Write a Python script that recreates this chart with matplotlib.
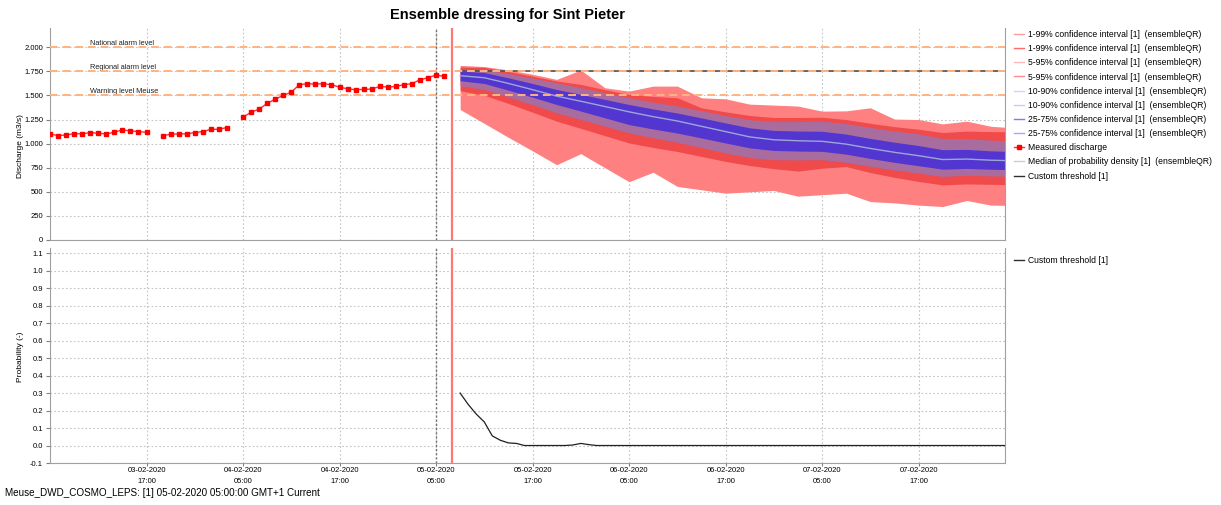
import numpy as np
import matplotlib
matplotlib.use("Agg")
import matplotlib.pyplot as plt
from matplotlib.lines import Line2D
from matplotlib.ticker import FuncFormatter, MultipleLocator
from datetime import datetime, timedelta

plt.rcParams['font.family'] = ['Liberation Sans', 'DejaVu Sans']

# ---------------- data ----------------
meas_start = datetime(2020, 2, 3, 5)
measured = [1101, 1083, 1090, 1104, 1101, 1115, 1108, 1101, 1118, 1142, 1132, 1125, 1118,
            np.nan,
            1083, 1097, 1101, 1101, 1115, 1125, 1149, 1149, 1167,
            np.nan,
            1274, 1326, 1358, 1417, 1462, 1500, 1535, 1611, 1622, 1618, 1622, 1611, 1587,
            1569, 1559, 1563, 1566, 1594, 1587, 1594, 1611, 1622, 1663, 1684, 1712, 1698]

fc_start = datetime(2020, 2, 5, 8)
q01 = [1354, 1210, 1065, 925, 781, 896, 750, 605, 703, 556, 521, 486, 500, 514, 455, 470, 486, 399, 385, 362, 347, 410, 362, 358]
q99 = [1812, 1800, 1765, 1720, 1667, 1764, 1580, 1545, 1597, 1597, 1476, 1465, 1410, 1400, 1390, 1337, 1340, 1372, 1255, 1250, 1205, 1233, 1180, 1163]
q05 = [1549, 1502, 1417, 1326, 1233, 1159, 1083, 1007, 960, 919, 867, 816, 773, 740, 715, 745, 762, 700, 650, 608, 572, 582, 578, 573]
q95 = [1795, 1791, 1748, 1700, 1650, 1615, 1560, 1510, 1490, 1476, 1372, 1330, 1292, 1271, 1271, 1274, 1250, 1211, 1176, 1150, 1115, 1130, 1125, 1122]
q10 = [1601, 1562, 1486, 1403, 1319, 1251, 1181, 1111, 1060, 1014, 959, 903, 856, 833, 831, 833, 806, 764, 726, 694, 660, 671, 665, 661]
q90 = [1771, 1768, 1727, 1681, 1632, 1581, 1529, 1476, 1431, 1391, 1342, 1292, 1248, 1228, 1229, 1233, 1208, 1168, 1132, 1101, 1055, 1054, 1036, 1028]
q25 = [1653, 1624, 1555, 1482, 1406, 1338, 1268, 1198, 1152, 1110, 1059, 1007, 956, 929, 923, 920, 891, 846, 806, 771, 735, 743, 734, 729]
q75 = [1753, 1737, 1683, 1624, 1562, 1511, 1459, 1406, 1360, 1318, 1267, 1215, 1164, 1137, 1131, 1128, 1099, 1054, 1015, 980, 937, 940, 925, 918]
median = [1705, 1684, 1625, 1560, 1493, 1440, 1385, 1330, 1280, 1235, 1180, 1125, 1070, 1040, 1030, 1024, 995, 950, 910, 875, 835, 840, 828, 822]

prob_start = datetime(2020, 2, 5, 8)
probability = [0.30, 0.235, 0.18, 0.135, 0.055, 0.03, 0.015, 0.012, 0.0, 0.0,
               0.0, 0.0, 0.0, 0.0, 0.003, 0.012, 0.005, 0.0, 0.0, 0.0,
               0.0, 0.0, 0.0, 0.0, 0.0, 0.0, 0.0, 0.0, 0.0, 0.0,
               0.0, 0.0, 0.0, 0.0, 0.0, 0.0, 0.0, 0.0, 0.0, 0.0,
               0.0, 0.0, 0.0, 0.0, 0.0, 0.0, 0.0, 0.0, 0.0, 0.0,
               0.0, 0.0, 0.0, 0.0, 0.0, 0.0, 0.0, 0.0, 0.0, 0.0,
               0.0, 0.0, 0.0, 0.0, 0.0, 0.0, 0.0, 0.0, 0.0]

alarm_levels = [2000, 1750, 1500]
alarm_labels = ['National alarm level', 'Regional alarm level', 'Warning level Meuse']
custom_threshold = 1750
t_forecast = datetime(2020, 2, 5, 5)
t_current = datetime(2020, 2, 5, 7)
x_min = datetime(2020, 2, 3, 5)
x_max = datetime(2020, 2, 8, 3, 45)
x_ticks = [datetime(2020, 2, 3, 17), datetime(2020, 2, 4, 5), datetime(2020, 2, 4, 17),
           datetime(2020, 2, 5, 5), datetime(2020, 2, 5, 17), datetime(2020, 2, 6, 5),
           datetime(2020, 2, 6, 17), datetime(2020, 2, 7, 5), datetime(2020, 2, 7, 17)]
x_ticklabels = [t.strftime('%d-%m-%Y\n%H:%M') for t in x_ticks]

meas_times = [meas_start + timedelta(hours=i) for i in range(len(measured))]
fc_times = [fc_start + timedelta(hours=3 * i) for i in range(len(median))]
prob_times = [prob_start + timedelta(hours=i) for i in range(len(probability))]

# ---------------- figure ----------------
W, H = 1221, 505
fig = plt.figure(figsize=(W / 100, H / 100), dpi=100)
ax1 = fig.add_axes([50 / W, 1 - 240 / H, 955 / W, 212 / H])
ax2 = fig.add_axes([50 / W, 1 - 463 / H, 955 / W, 215 / H])

grid_kw = dict(color='#c4c4c4', lw=0.8, ls=(0, (1.5, 2.0)))
for ax in (ax1, ax2):
    ax.set_xlim(x_min, x_max)
    ax.grid(True, **grid_kw)
    ax.set_axisbelow(True)
    for s in ('left', 'bottom', 'right'):
        ax.spines[s].set_color('#a0a0a0')
    ax.spines['top'].set_visible(False)
    ax.tick_params(axis='both', labelsize=5.5, length=3, width=0.8, color='#808080', pad=2)
    ax.axvline(t_forecast, color='#707070', lw=1, ls=(0, (1.5, 1.5)), zorder=4)
    ax.axvline(t_current, color='#ff7878', lw=1.6, zorder=5)

ax1.set_xticks(x_ticks, labels=['' for _ in x_ticks])
ax2.set_xticks(x_ticks, labels=x_ticklabels, fontsize=5.5, linespacing=1.75)
ax2.set_xlim(x_min, x_max)
ax1.set_xlim(x_min, x_max)

# top panel
ax1.set_ylim(0, 2200)
ax1.yaxis.set_major_locator(MultipleLocator(250))
ax1.yaxis.set_major_formatter(FuncFormatter(lambda v, p: f'{int(v):,}'.replace(',', '.') if v <= 2000 else ''))
ax1.tick_params(axis='x', length=0)
ax1.set_ylabel('Discharge (m3/s)', fontsize=6)
ax1.yaxis.set_label_coords(-26 / 955, 0.443)

ax1.fill_between(fc_times, q01, q99, color='#ff8080', lw=0, zorder=2)
ax1.fill_between(fc_times, q05, q95, color='#f04a4a', lw=0, zorder=2)
ax1.fill_between(fc_times, q10, q90, color='#a86c9e', lw=0, zorder=2)
ax1.fill_between(fc_times, q25, q75, color='#5236cf', lw=0, zorder=2)
ax1.plot(fc_times, median, color='#9ea6d8', lw=1, zorder=3)

ax1.plot([fc_times[0], x_max], [custom_threshold, custom_threshold], color='#505050', lw=1.2, zorder=3)
for lvl, lab in zip(alarm_levels, alarm_labels):
    ax1.axhline(lvl, color='#ffb380', lw=1.4, ls=(0, (4, 2.5)), zorder=3.5)
    ax1.text(datetime(2020, 2, 3, 10), lvl + 42, lab, fontsize=5.3, va='center', ha='left', color='#202020')

ax1.plot(meas_times, measured, color='#ff3030', lw=1, marker='s', ms=3.3,
         mfc='#ff0000', mec='#ff0000', zorder=6)

# bottom panel
ax2.set_ylim(-0.1, 1.13)
ax2.yaxis.set_major_locator(MultipleLocator(0.1))
ax2.yaxis.set_major_formatter(FuncFormatter(lambda v, p: f'{v:.1f}' if v <= 1.101 else ''))
ax2.set_ylabel('Probability (-)', fontsize=6)
ax2.yaxis.set_label_coords(-26 / 955, 0.493)
ax2.plot(prob_times, probability, color='#202020', lw=0.9, zorder=6)
ax2.tick_params(axis='x', length=2, pad=1.0)

# title and footer
fig.text(507 / W, 1 - 15 / H, 'Ensemble dressing for Sint Pieter', ha='center', va='center',
         fontsize=10.5, fontweight='bold')
fig.text(5 / W, 1 - 493 / H, 'Meuse_DWD_COSMO_LEPS: [1] 05-02-2020 05:00:00 GMT+1 Current',
         ha='left', va='center', fontsize=7.1)

# legends
sfx = ' [1]  (ensembleQR)'
handles = [
    Line2D([], [], color='#ff9a9a', lw=1),
    Line2D([], [], color='#ff6a6a', lw=1),
    Line2D([], [], color='#ffb8b8', lw=1),
    Line2D([], [], color='#ff8c8c', lw=1),
    Line2D([], [], color='#ccd4ff', lw=1),
    Line2D([], [], color='#c4ccff', lw=1),
    Line2D([], [], color='#7a7aff', lw=1),
    Line2D([], [], color='#a8a8ff', lw=1),
    Line2D([], [], color='#ff3030', lw=1, marker='s', ms=3.0, mfc='#ff0000', mec='#ff0000'),
    Line2D([], [], color='#cccccc', lw=1),
    Line2D([], [], color='#303030', lw=1),
]
labels = ['1-99% confidence interval' + sfx, '1-99% confidence interval' + sfx,
          '5-95% confidence interval' + sfx, '5-95% confidence interval' + sfx,
          '10-90% confidence interval' + sfx, '10-90% confidence interval' + sfx,
          '25-75% confidence interval' + sfx, '25-75% confidence interval' + sfx,
          'Measured discharge', 'Median of probability density' + sfx, 'Custom threshold [1]']
fig.legend(handles, labels, loc='upper left', bbox_to_anchor=(1014 / W, 1 - 30 / H),
           frameon=False, fontsize=6.2, handlelength=1.2, handletextpad=0.4,
           labelspacing=0.6, borderaxespad=0, borderpad=0)
fig.legend([Line2D([], [], color='#303030', lw=1)], ['Custom threshold [1]'], loc='upper left',
           bbox_to_anchor=(1014 / W, 1 - 256 / H), frameon=False, fontsize=6.2,
           handlelength=1.2, handletextpad=0.4, borderaxespad=0, borderpad=0)

fig.savefig('out.png', dpi=100)
